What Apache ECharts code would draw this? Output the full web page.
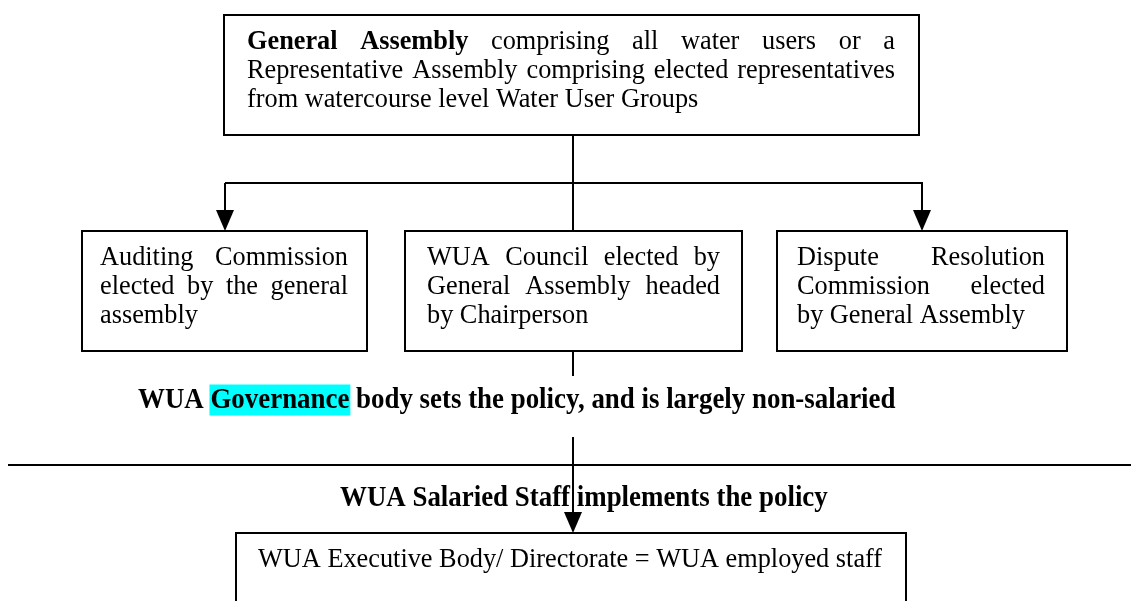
<!DOCTYPE html>
<html>
<head>
<meta charset="utf-8">
<script src="https://cdn.jsdelivr.net/npm/echarts@6/dist/echarts.min.js"></script>
<style>
html,body{margin:0;padding:0;background:#fff;}
#c{width:1131px;height:601px;}
</style>
</head>
<body>
<div id="c"></div>
<script>
// ---- Diagram content (texts) ----
// words prefixed with '*' are bold
const assemblyLines = [
  '*General *Assembly comprising all water users or a',
  'Representative Assembly comprising elected representatives',
  'from watercourse level Water User Groups'
];
const auditingLines = ['Auditing Commission', 'elected by the general', 'assembly'];
const councilLines = ['WUA Council elected by', 'General Assembly headed', 'by Chairperson'];
const disputeLines = ['Dispute Resolution', 'Commission elected', 'by General Assembly'];
const executiveLines = ['WUA Executive Body/ Directorate = WUA employed staff'];
const governanceParts = ['WUA ', 'Governance', ' body sets the policy, and is largely non-salaried'];
const salariedText = 'WUA Salaried Staff implements the policy';

// ---- Layout (pixel space of the hidden axes) ----
const FONT = '"Liberation Serif", "Times New Roman", serif';
const LAYOUT = {
  boxFont: 26.3, lineGap: 29, firstLine: 27.5,
  boxes: [
    {lines: 'assembly', x: 224, y: 15, w: 695, h: 120, tl: 247, tr: 895},
    {lines: 'auditing', x: 82, y: 231, w: 285, h: 120, tl: 100, tr: 348},
    {lines: 'council', x: 405, y: 231, w: 337, h: 120, tl: 427, tr: 720},
    {lines: 'dispute', x: 777, y: 231, w: 290, h: 120, tl: 797, tr: 1045},
    {lines: 'executive', x: 236, y: 533, w: 670, h: 110, tl: 258, tr: 884}
  ],
  connectors: [
    [[573, 135], [573, 231]],
    [[225, 183], [922, 183], [922, 212]],
    [[225, 183], [225, 212]],
    [[573, 351], [573, 376]],
    [[573, 437], [573, 514]],
    [[8, 465], [1131, 465]]
  ],
  arrows: [[225, 231], [922, 231], [573, 533]],
  governance: {x: 138, y: 400, size: 26.9, stretch: 1.1},
  salaried: {x: 340, y: 498, size: 26.9, stretch: 1.1}
};
const LINESETS = {assembly: assemblyLines, auditing: auditingLines, council: councilLines, dispute: disputeLines, executive: executiveLines};

const mctx = document.createElement('canvas').getContext('2d');
function fontStr(bold, size) { return (bold ? 'bold ' : '') + size + 'px ' + FONT; }
function measure(t, bold, size) { mctx.font = fontStr(bold, size); return mctx.measureText(t).width; }

const chart = echarts.init(document.getElementById('c'), null, {renderer: 'canvas'});

function textEl(p, text, font, sy) {
  const el = {type: 'text', x: p[0], y: p[1], style: {text: text, font: font, fill: '#000', textAlign: 'left', textVerticalAlign: 'middle', align: 'left', verticalAlign: 'middle'}};
  if (sy) { el.scaleY = sy; el.originX = 0; el.originY = 0; }
  return el;
}

function renderItem(params, api) {
  const C = (p) => api.coord(p);
  const kids = [];
  LAYOUT.connectors.forEach(pts => {
    kids.push({type: 'polyline', shape: {points: pts.map(C)}, style: {stroke: '#000', lineWidth: 2, fill: null}});
  });
  LAYOUT.arrows.forEach(a => {
    const tip = C(a);
    kids.push({type: 'polygon', shape: {points: [[tip[0] - 9, tip[1] - 21], [tip[0] + 9, tip[1] - 21], [tip[0], tip[1]]]}, style: {fill: '#000'}});
  });
  LAYOUT.boxes.forEach(b => {
    const p0 = C([b.x, b.y]), p1 = C([b.x + b.w, b.y + b.h]);
    kids.push({type: 'rect', shape: {x: p0[0], y: p0[1], width: p1[0] - p0[0], height: p1[1] - p0[1]}, style: {fill: '#fff', stroke: '#000', lineWidth: 2}});
    const lines = LINESETS[b.lines];
    const size = LAYOUT.boxFont;
    lines.forEach((ln, i) => {
      const words = ln.split(' ').map(w => w.startsWith('*') ? {t: w.slice(1), b: true} : {t: w, b: false});
      const widths = words.map(w => measure(w.t, w.b, size));
      const y = b.y + LAYOUT.firstLine + i * LAYOUT.lineGap;
      const last = i === lines.length - 1;
      const total = widths.reduce((s, v) => s + v, 0);
      const gap = (!last && words.length > 1) ? (b.tr - b.tl - total) / (words.length - 1) : measure(' ', false, size);
      let x = b.tl;
      words.forEach((w, k) => {
        kids.push(textEl(C([x, y]), w.t, fontStr(w.b, size)));
        x += widths[k] + gap;
      });
    });
  });
  const g = LAYOUT.governance;
  const w0 = measure(governanceParts[0], true, g.size);
  const w1 = measure(governanceParts[1], true, g.size);
  const hh = g.size * 1.16;
  const hp = C([g.x + w0, g.y - hh / 2]);
  kids.push({type: 'rect', shape: {x: hp[0] - 1, y: hp[1], width: w1 + 2, height: hh}, style: {fill: '#00FFFF'}});
  let gx = g.x;
  governanceParts.forEach(part => {
    kids.push(textEl(C([gx, g.y]), part, fontStr(true, g.size), g.stretch));
    gx += measure(part, true, g.size);
  });
  const s = LAYOUT.salaried;
  kids.push(textEl(C([s.x, s.y]), salariedText, fontStr(true, s.size), s.stretch));
  return {type: 'group', children: kids};
}

chart.setOption({
  animation: false,
  backgroundColor: '#fff',
  grid: {left: 0, right: 0, top: 0, bottom: 0},
  xAxis: {type: 'value', min: 0, max: 1131, show: false},
  yAxis: {type: 'value', min: 0, max: 601, inverse: true, show: false},
  series: [{
    type: 'custom',
    coordinateSystem: 'cartesian2d',
    renderItem: renderItem,
    data: [[0, 0]],
    clip: false,
    silent: true
  }]
});
</script>
</body>
</html>
